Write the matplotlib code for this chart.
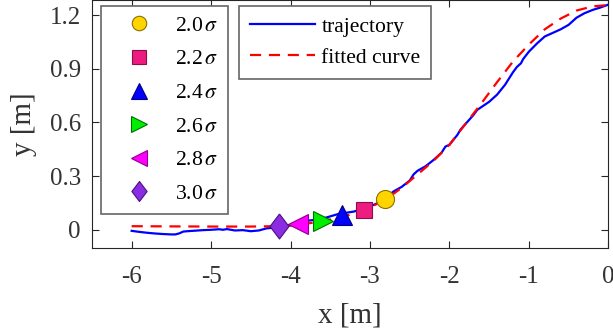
import matplotlib
matplotlib.use('Agg')
import matplotlib.pyplot as plt

plt.rcParams['font.family'] = ['Liberation Serif', 'DejaVu Serif']
plt.rcParams['mathtext.fontset'] = 'stix'

# measured trajectory
traj_x = [-6.00, -5.90, -5.80, -5.70, -5.60, -5.50, -5.45, -5.40, -5.35, -5.30,
          -5.20, -5.10, -5.00, -4.90, -4.85, -4.80, -4.70, -4.60, -4.50, -4.40,
          -4.30, -4.20, -4.10, -4.00, -3.90, -3.80, -3.70, -3.60, -3.50, -3.40,
          -3.30, -3.20, -3.10, -3.00, -2.90, -2.80, -2.70, -2.60, -2.50, -2.45,
          -2.40, -2.30, -2.20, -2.10, -2.05, -2.00, -1.90, -1.86, -1.80, -1.70,
          -1.65, -1.60, -1.50, -1.40, -1.30, -1.20, -1.15, -1.10, -1.07, -1.00,
          -0.90, -0.80, -0.70, -0.60, -0.50, -0.40, -0.30, -0.20, -0.10, 0.00]
traj_y = [-0.006, -0.012, -0.017, -0.021, -0.024, -0.026, -0.026, -0.020, -0.010, -0.008,
          -0.005, -0.002, 0.000, 0.003, 0.000, 0.004, -0.004, -0.002, -0.008, -0.004,
          0.008, 0.012, 0.018, 0.025, 0.035, 0.050, 0.055, 0.062, 0.075, 0.088,
          0.095, 0.102, 0.118, 0.130, 0.150, 0.180, 0.215, 0.240, 0.275, 0.310,
          0.330, 0.355, 0.390, 0.430, 0.465, 0.475, 0.530, 0.560, 0.590, 0.640,
          0.670, 0.685, 0.715, 0.755, 0.810, 0.880, 0.910, 0.930, 0.955, 0.995,
          1.040, 1.080, 1.100, 1.120, 1.145, 1.185, 1.210, 1.228, 1.242, 1.258]

# fitted curve
fit_x = [-6.0, -5.5, -5.0, -4.5, -4.2, -4.0, -3.8, -3.6, -3.4, -3.2, -3.0, -2.8,
         -2.6, -2.4, -2.2, -2.0, -1.8, -1.6, -1.4, -1.2, -1.0, -0.8, -0.6, -0.4,
         -0.2, 0.0]
fit_y = [0.020, 0.019, 0.018, 0.018, 0.020, 0.025, 0.034, 0.048, 0.067, 0.090, 0.125, 0.170,
         0.235, 0.310, 0.385, 0.475, 0.590, 0.705, 0.825, 0.940, 1.035, 1.120, 1.180, 1.225,
         1.248, 1.256]

# switch points for each threshold
thresholds = ['2.0', '2.2', '2.4', '2.6', '2.8', '3.0']
point_x = [-2.81, -3.07, -3.35, -3.59, -3.91, -4.15]
point_y = [0.17, 0.11, 0.08, 0.05, 0.03, 0.02]

diamond = [(0, 1), (0.76, 0), (0, -1), (-0.76, 0), (0, 1)]
markers = ['o', 's', '^', '>', '<', diamond]
sizes = [13, 12, 14, 14, 14, 18]
faces = ['#FFD500', '#EC1C80', '#0000FF', '#00EE00', '#FF00FF', '#8B2BE2']
edges = ['#8A7000', '#8A1048', '#000080', '#007000', '#900090', '#4A1080']

fig = plt.figure(figsize=(6.13, 3.32), dpi=100)
ax = fig.add_axes([0.150, 0.254, 0.8423, 0.746])

traj_line, = ax.plot(traj_x, traj_y, color='#0000FF', lw=1.6, label='trajectory')
fit_line, = ax.plot(fit_x, fit_y, color='#FF0000', lw=1.6, ls=(0, (5, 3.5)),
                    label='fitted curve')

pt_handles = []
for i in range(len(thresholds)):
    h, = ax.plot(point_x[i], point_y[i], ls='none', marker=markers[i], ms=sizes[i],
                 mfc=faces[i], mec=edges[i], mew=0.8, zorder=5,
                 label=thresholds[i] + r'$\,\sigma$')
    pt_handles.append(h)

ax.set_xlim(-6.5, 0)
ax.set_ylim(-0.1, 1.284)
ax.set_xticks([-6, -5, -4, -3, -2, -1, 0])
ax.set_xticklabels(['-6', '-5', '-4', '-3', '-2', '-1', '0'])
ax.set_yticks([0, 0.3, 0.6, 0.9, 1.2])
ax.set_yticklabels(['0', '0.3', '0.6', '0.9', '1.2'])

ax.tick_params(direction='in', top=True, right=True, length=5, width=0.8,
               colors='#262626', labelsize=18, labelcolor='#333333')
ax.tick_params(axis='x', pad=13.5)
ax.tick_params(axis='y', pad=8)
for s in ax.spines.values():
    s.set_color('#262626')
    s.set_linewidth(0.8)

ax.set_xlabel('x [m]', fontsize=21, color='#333333', labelpad=10)
ax.set_ylabel('y [m]', fontsize=21, color='#333333', labelpad=9)

leg1 = ax.legend(handles=pt_handles, loc='upper left',
                 bbox_to_anchor=(0.1643, 0.982), bbox_transform=fig.transFigure,
                 borderaxespad=0, fontsize=15.6, handlelength=2.6, handletextpad=0.4,
                 labelspacing=0.62, markerscale=0.8, fancybox=False, framealpha=1,
                 edgecolor='#666666', borderpad=0.45)
leg1.get_frame().set_linewidth(1.2)
ax.add_artist(leg1)

leg2 = ax.legend(handles=[traj_line, fit_line], loc='upper left',
                 bbox_to_anchor=(0.390, 0.982), bbox_transform=fig.transFigure,
                 borderaxespad=0, fontsize=15.6, handlelength=3.0, handletextpad=0.3,
                 labelspacing=0.5, fancybox=False, framealpha=1,
                 edgecolor='#666666', borderpad=0.5)
leg2.get_frame().set_linewidth(1.2)

fig.savefig('out.png', dpi=100)
